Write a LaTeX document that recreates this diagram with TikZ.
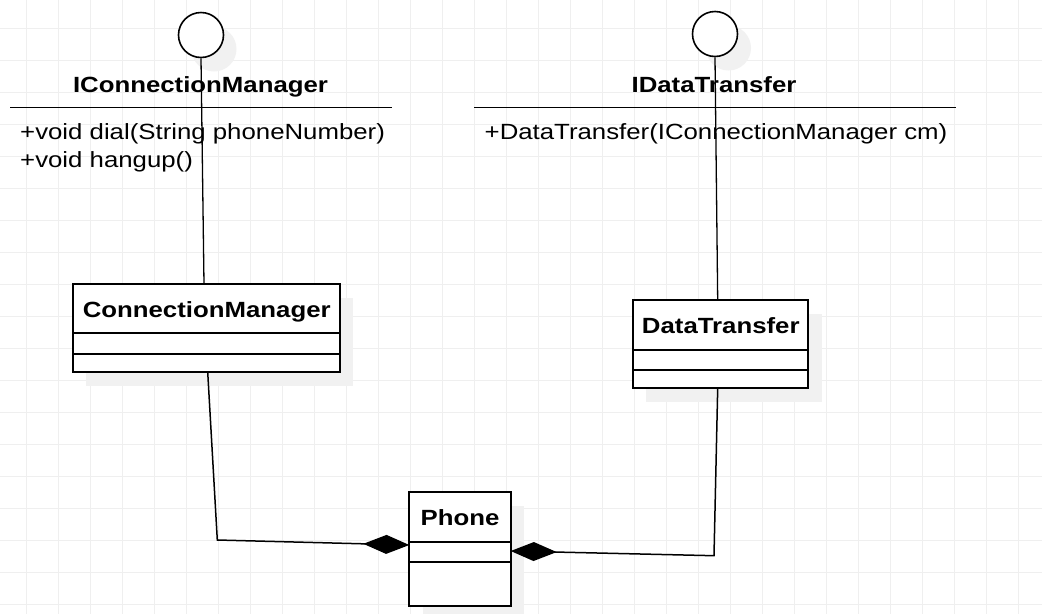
\documentclass[tikz,border=0pt]{standalone}
\usepackage{fontspec}
\setmainfont{Liberation Sans}[FakeStretch=1.172]
\usetikzlibrary{arrows.meta}
\definecolor{gridc}{RGB}{239,239,239}
\definecolor{shadowc}{RGB}{241,241,241}
\tikzset{
  umlbox/.style={draw=black, line width=2pt, fill=white, inner sep=0pt},
  divider/.style={line width=2pt},
  iface/.style={draw=black, line width=1.6pt, fill=white, circle, inner sep=0pt, minimum size=45pt},
  ifaceline/.style={line width=1.3pt},
  sepline/.style={line width=1.5pt},
  conn/.style={line width=1.5pt, -{Diamond[length=46pt,width=19pt]}},
  txt/.style={inner sep=0pt, font=\fontsize{22}{26}\selectfont},
  btxt/.style={inner sep=0pt, font=\fontsize{22}{26}\selectfont\bfseries},
}
\begin{document}
\begin{tikzpicture}[x=1pt,y=-1pt]
\useasboundingbox (0,0) rectangle (1042,614);
\fill[white] (0,0) rectangle (1042,614);
% grid
\foreach \gx in {0,...,31} {\draw[gridc, line width=0.8pt] (26.3+32*\gx,0) -- (26.3+32*\gx,614);}
\foreach \gy in {0,...,18} {\draw[gridc, line width=0.8pt] (0,28+32*\gy) -- (1042,28+32*\gy);}
% shadows
\fill[shadowc] (214,49) circle (22.5);
\fill[shadowc] (728.5,48) circle (22.5);
\fill[shadowc] (86.3,298) rectangle (353,385.7);
\fill[shadowc] (646.3,314) rectangle (821.7,402);
\fill[shadowc] (422.7,506) rectangle (524,614);
% interface circles
\node[iface] (c1) at (201,35) {};
\node[iface] (c2) at (715,34) {};
% interface texts
\node[btxt, anchor=base] (icmt) at (200.5,92) {IConnectionManager};
\draw[sepline] (10,107.5) coordinate (icmL) -- (392,107.5) coordinate (icmR);
\node[txt, anchor=base west] (icm1) at (20,139.3) {+void dial(String phoneNumber)};
\node[txt, anchor=base west] (icm2) at (20,167.3) {+void hangup()};
\node[btxt, anchor=base] (idtt) at (714,92) {IDataTransfer};
\draw[sepline] (474,107.5) coordinate (idtL) -- (956,107.5) coordinate (idtR);
\node[txt, anchor=base west] (idt1) at (484.5,139.3) {+DataTransfer(IConnectionManager cm)};
% classes
\node[umlbox, minimum width=266.7pt, minimum height=87.7pt] (cm) at (206.65,327.85) {};
\draw[divider] (cm.west |- 0,333.3) -- (cm.east |- 0,333.3);
\draw[divider] (cm.west |- 0,354) -- (cm.east |- 0,354);
\node[btxt, anchor=base] (cmt) at (206.7,317.7) {ConnectionManager};
\node[umlbox, minimum width=175pt, minimum height=88.3pt] (dt) at (720.8,344.15) {};
\draw[divider] (dt.west |- 0,350) -- (dt.east |- 0,350);
\draw[divider] (dt.west |- 0,370) -- (dt.east |- 0,370);
\node[btxt, anchor=base] (dtt) at (720.8,333.3) {DataTransfer};
\node[umlbox, minimum width=101.4pt, minimum height=114.3pt] (ph) at (460,548.85) {};
\draw[divider] (ph.west |- 0,541.7) -- (ph.east |- 0,541.7);
\draw[divider] (ph.west |- 0,561.7) -- (ph.east |- 0,561.7);
\node[btxt, anchor=base] (pht) at (460,525.7) {Phone};
% interface realization lines
\coordinate (cmtop) at (204,284);
\coordinate (dttop) at (717.7,300);
\draw[ifaceline] (c1.south) -- (cmtop);
\draw[ifaceline] (c2.south) -- (dttop);
% composition connectors
\coordinate (cmbot) at (207.7,372);
\coordinate (k1) at (217.3,540);
\coordinate (phL) at (409.3,545);
\draw[conn] (cmbot) -- (k1) -- (phL);
\coordinate (dtbot) at (717.7,388.3);
\coordinate (k2) at (714,555.7);
\coordinate (phR) at (510.7,551);
\draw[conn] (dtbot) -- (k2) -- (phR);
\end{tikzpicture}
\end{document}
